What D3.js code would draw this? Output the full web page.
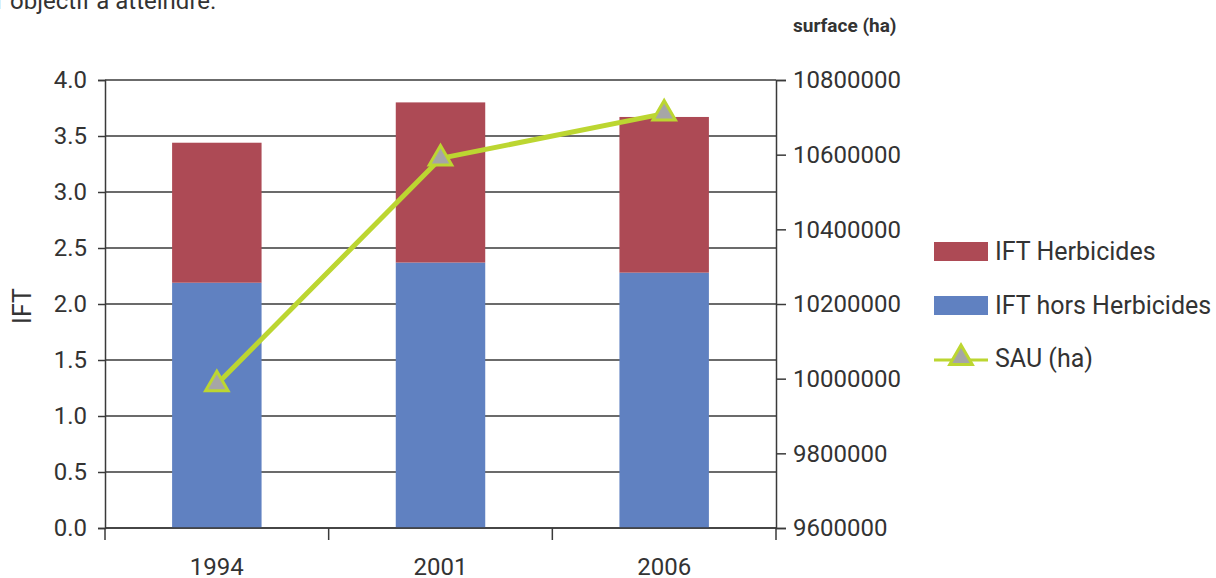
<!DOCTYPE html>
<html><head><meta charset="utf-8">
<script src="https://cdn.jsdelivr.net/npm/d3@7/dist/d3.min.js"></script>
<style>body{margin:0;background:#fff}svg{display:block}text{font-family:Roboto,"DejaVu Sans",sans-serif;fill:#333}</style>
</head><body><svg id="c" width="1216" height="578"></svg>
<script>
const categories = ["1994","2001","2006"];
const iftHors = [2.19, 2.37, 2.28];
const iftHerb = [1.25, 1.43, 1.39];
const sau = [9985000, 10590000, 10710000];
const leftTicks = [0,0.5,1,1.5,2,2.5,3,3.5,4];
const rightTicks = [9600000,9800000,10000000,10200000,10400000,10600000,10800000];
const seriesNames = ["IFT Herbicides","IFT hors Herbicides","SAU (ha)"];
const colors = {herb:"#ad4a55", hors:"#6081c1", line:"#bcd631", marker:"#a6a6a6"};

const svg = d3.select("#c");
const L=105, R=776, T=80, B=528;
const x = d3.scaleBand().domain(categories).range([L,R]).paddingInner(0.6).paddingOuter(0.3);
const xc = d3.scaleBand().domain(categories).range([L,R]);
const y = d3.scaleLinear().domain([0,4]).range([B,T]);
const y2 = d3.scaleLinear().domain([9600000,10800000]).range([B,T]);

svg.append("text").attr("x",-4).attr("y",9).attr("font-size",24).text("r objectif à atteindre.");

// gridlines
svg.append("g").selectAll("line").data(leftTicks).join("line")
  .attr("x1",L).attr("x2",R).attr("y1",d=>y(d)).attr("y2",d=>y(d))
  .attr("stroke","#3a3a3a").attr("stroke-width",1.5);

// bars
const stack = categories.map((c,i)=>({c, hors:iftHors[i], herb:iftHerb[i]}));
svg.append("g").selectAll("rect").data(stack).join("rect")
  .attr("x",d=>x(d.c)).attr("width",x.bandwidth())
  .attr("y",d=>y(d.hors)).attr("height",d=>B-y(d.hors)).attr("fill",colors.hors);
svg.append("g").selectAll("rect").data(stack).join("rect")
  .attr("x",d=>x(d.c)).attr("width",x.bandwidth())
  .attr("y",d=>y(d.hors+d.herb)).attr("height",d=>y(d.hors)-y(d.hors+d.herb)).attr("fill",colors.herb);

// axes
const axL = svg.append("g").attr("transform",`translate(${L},0)`)
  .call(d3.axisLeft(y).tickValues(leftTicks).tickFormat(d3.format(".1f")).tickSize(7).tickPadding(11));
const axR = svg.append("g").attr("transform",`translate(${R},0)`)
  .call(d3.axisRight(y2).tickValues(rightTicks).tickFormat(d=>String(d)).tickSize(10).tickPadding(7));
const axB = svg.append("g").attr("transform",`translate(0,${B})`)
  .call(d3.axisBottom(xc).tickSize(0).tickPadding(30));
[axL,axR,axB].forEach(a=>{
  a.select(".domain").attr("stroke","#3a3a3a").attr("stroke-width",1.5);
  a.selectAll(".tick line").attr("stroke","#3a3a3a").attr("stroke-width",1.5);
  a.selectAll("text").attr("font-size",24).attr("fill","#333").attr("font-family","Roboto,sans-serif");
});
axB.select(".domain").attr("d",`M${L},0H${R}`);
// category boundary ticks
svg.append("g").selectAll("line").data(categories.concat(["end"])).join("line")
  .attr("x1",(d,i)=>i<3?xc(d):R).attr("x2",(d,i)=>i<3?xc(d):R)
  .attr("y1",B).attr("y2",B+12).attr("stroke","#3a3a3a").attr("stroke-width",1.5);

// line
const pts = categories.map((c,i)=>[xc(c)+xc.bandwidth()/2, y2(sau[i])]);
svg.append("path").datum(pts).attr("d",d3.line())
  .attr("fill","none").attr("stroke",colors.line).attr("stroke-width",5).attr("stroke-linejoin","round");
const tri = d3.symbol().type(d3.symbolTriangle).size(220);
svg.append("g").selectAll("path").data(pts).join("path")
  .attr("transform",d=>`translate(${d[0]},${d[1]})`).attr("d",tri)
  .attr("fill",colors.marker).attr("stroke",colors.line).attr("stroke-width",3);

// axis titles
svg.append("text").attr("transform","translate(31,306) rotate(-90)").attr("text-anchor","middle")
  .attr("font-size",25).text("IFT");
svg.append("text").attr("x",793).attr("y",32).attr("font-size",19).attr("font-weight","bold").text("surface (ha)");

// legend
const lg = svg.append("g");
lg.append("rect").attr("x",934).attr("y",242).attr("width",54).attr("height",19).attr("fill",colors.herb);
lg.append("text").attr("x",995).attr("y",260).attr("font-size",25).text(seriesNames[0]);
lg.append("rect").attr("x",934).attr("y",296).attr("width",54).attr("height",19).attr("fill",colors.hors);
lg.append("text").attr("x",995).attr("y",314).attr("font-size",25).text(seriesNames[1]);
lg.append("line").attr("x1",934).attr("x2",988).attr("y1",360).attr("y2",360).attr("stroke",colors.line).attr("stroke-width",3);
lg.append("path").attr("transform","translate(961,358)").attr("d",tri).attr("fill",colors.marker).attr("stroke",colors.line).attr("stroke-width",3);
lg.append("text").attr("x",995).attr("y",367).attr("font-size",25).text(seriesNames[2]);
</script></body></html>
